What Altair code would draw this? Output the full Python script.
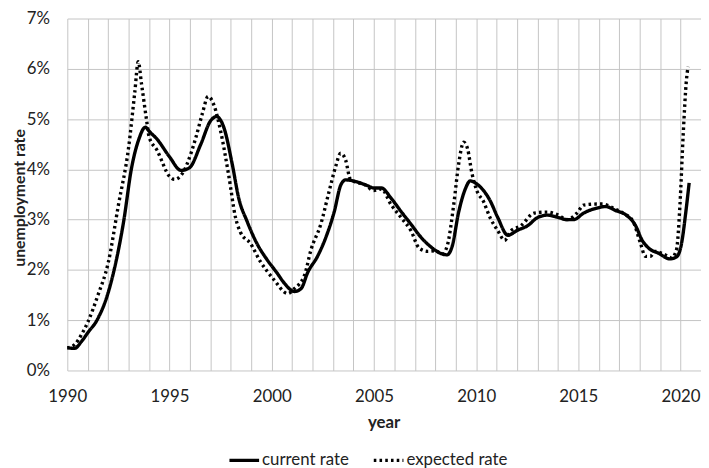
import altair as alt
import pandas as pd

# current rate (solid)
cur_year = [1990.0, 1990.35, 1990.7, 1991.0, 1991.45, 1992.0, 1992.29, 1992.77, 1993.13, 1993.5,
            1993.82, 1994.0, 1994.39, 1995.0, 1995.56, 1995.97, 1996.53, 1997.0, 1997.3, 1997.66,
            1998.06, 1998.39, 1998.79, 1999.27, 1999.76, 2000.24, 2000.63, 2001.11, 2001.44, 2001.76,
            2002.24, 2002.65, 2003.06, 2003.37, 2003.61, 2004.18, 2004.66, 2005.0, 2005.36, 2005.85,
            2006.33, 2006.81, 2007.3, 2007.78, 2008.26, 2008.58, 2008.82, 2009.15, 2009.47, 2009.71,
            2010.03, 2010.36, 2010.68, 2011.06, 2011.55, 2012.03, 2012.52, 2013.0, 2013.48, 2013.97,
            2014.45, 2014.77, 2015.26, 2015.9, 2016.34, 2016.83, 2017.31, 2017.8, 2018.12, 2018.45,
            2018.93, 2019.48, 2019.81, 2020.05, 2020.26, 2020.42]
cur_rate = [0.45, 0.44, 0.58, 0.75, 1.0, 1.55, 2.0, 3.0, 4.0, 4.6,
            4.84, 4.76, 4.6, 4.25, 3.98, 4.03, 4.5, 4.96, 5.05, 4.83,
            4.12, 3.42, 2.97, 2.53, 2.21, 1.95, 1.73, 1.57, 1.63, 1.95,
            2.27, 2.65, 3.16, 3.68, 3.79, 3.75, 3.68, 3.63, 3.63, 3.42,
            3.16, 2.91, 2.65, 2.46, 2.33, 2.30, 2.46, 3.16, 3.61, 3.77,
            3.71, 3.58, 3.38, 3.04, 2.69, 2.79, 2.88, 3.04, 3.09, 3.05,
            3.0, 3.0, 3.13, 3.23, 3.26, 3.18, 3.10, 2.88, 2.59, 2.43,
            2.33, 2.22, 2.26, 2.53, 3.16, 3.73]

# expected rate (dotted)
exp_year = [1990.0, 1990.35, 1990.7, 1991.0, 1991.5, 1992.0, 1992.5, 1993.0, 1993.3, 1993.47,
            1993.63, 1993.87, 1994.0, 1994.39, 1995.0, 1995.24, 1995.65, 1996.05, 1996.3, 1996.6,
            1996.89, 1997.18, 1997.5, 1997.9, 1998.23, 1998.47, 1998.95, 1999.44, 2000.08, 2000.79,
            2001.11, 2001.6, 2001.92, 2002.4, 2002.8, 2003.13, 2003.37, 2003.61, 2003.85, 2004.18,
            2004.58, 2004.98, 2005.36, 2005.85, 2006.33, 2006.81, 2007.22, 2007.63, 2008.0, 2008.35,
            2008.6, 2008.9, 2009.15, 2009.39, 2009.58, 2009.79, 2010.03, 2010.36, 2010.68, 2011.06,
            2011.39, 2011.71, 2012.19, 2012.84, 2013.48, 2013.97, 2014.45, 2014.93, 2015.26, 2015.9,
            2016.18, 2016.7, 2017.18, 2017.67, 2018.04, 2018.28, 2018.52, 2018.76, 2019.24, 2019.56,
            2019.8, 2019.97, 2020.13, 2020.29, 2020.37]
exp_rate = [0.45, 0.51, 0.72, 0.96, 1.5, 2.14, 3.29, 4.44, 5.53, 6.14,
            5.7, 5.0, 4.65, 4.38, 3.86, 3.80, 3.93, 4.32, 4.65, 5.1,
            5.45, 5.27, 4.76, 3.87, 3.04, 2.75, 2.53, 2.17, 1.82, 1.53,
            1.63, 1.89, 2.40, 2.91, 3.55, 4.06, 4.32, 4.19, 3.80, 3.74,
            3.69, 3.58, 3.61, 3.29, 3.04, 2.78, 2.43, 2.37, 2.38, 2.32,
            2.5, 3.29, 4.12, 4.54, 4.41, 3.93, 3.58, 3.36, 3.04, 2.78,
            2.59, 2.78, 2.88, 3.13, 3.15, 3.10, 3.0, 3.13, 3.29, 3.31,
            3.31, 3.23, 3.13, 2.97, 2.53, 2.27, 2.27, 2.37, 2.30, 2.24,
            2.40, 3.29, 4.70, 5.79, 6.04]

series_names = ["current rate", "expected rate"]
x_ticks = list(range(1990, 2022))
y_ticks = [0, 1, 2, 3, 4, 5, 6, 7]

df = pd.concat([
    pd.DataFrame({"year": cur_year, "rate": cur_rate, "series": series_names[0], "order": range(len(cur_year))}),
    pd.DataFrame({"year": exp_year, "rate": exp_rate, "series": series_names[1], "order": range(len(exp_year))}),
])

FONT = "Lato"
TXT = "#222222"
GRID = "#c4c4c4"

chart = alt.Chart(df).mark_line(interpolate="monotone", strokeWidth=3.4, color="black").encode(
    x=alt.X("year:Q",
            scale=alt.Scale(domain=[1990, 2021], nice=False, zero=False),
            axis=alt.Axis(values=x_ticks, labelExpr="datum.value % 5 == 0 ? datum.label : ''",
                          format="d", ticks=False, tickSize=0, domain=False, grid=True,
                          gridColor=GRID, gridWidth=1, labelBaseline="alphabetic", labelPadding=31,
                          labelFontSize=17, labelFont=FONT, labelColor=TXT, labelAngle=0,
                          labelFlush=False, labelOverlap=False,
                          title="year", titleFont=FONT, titleFontSize=17, titleFontWeight="bold",
                          titleColor=TXT, titleBaseline="alphabetic", titleX=320, titleY=58)),
    y=alt.Y("rate:Q",
            scale=alt.Scale(domain=[0, 7], nice=False),
            axis=alt.Axis(values=y_ticks, labelExpr="datum.value + '%'", ticks=False, tickSize=0,
                          domain=False, grid=True, gridColor=GRID, gridWidth=1, labelPadding=18,
                          labelFontSize=17, labelFont=FONT, labelColor=TXT, labelFlush=False,
                          title="unemployment rate", titleFont=FONT, titleFontSize=16,
                          titleFontWeight="bold", titleColor=TXT, titleBaseline="alphabetic",
                          titleX=-43, titleY=181, titleAngle=270)),
    strokeDash=alt.StrokeDash("series:N",
                              scale=alt.Scale(domain=series_names, range=[[1, 0], [2.6, 3.2]]),
                              legend=alt.Legend(title=None, orient="none", direction="horizontal",
                                                legendX=162, legendY=430, symbolType="stroke",
                                                symbolSize=900, symbolStrokeWidth=3.4,
                                                symbolStrokeColor="black", labelFont=FONT,
                                                labelFontSize=17, labelColor=TXT, labelOffset=1,
                                                columnPadding=18, padding=0)),
    order="order:Q",
).properties(
    width=641, height=356,
    autosize=alt.AutoSizeParams(type="none"),
    padding={"left": 60, "top": 8, "right": 0, "bottom": 96},
).configure_view(stroke=None)

chart.save("out.html", embed_options={"renderer": "svg", "actions": False})
